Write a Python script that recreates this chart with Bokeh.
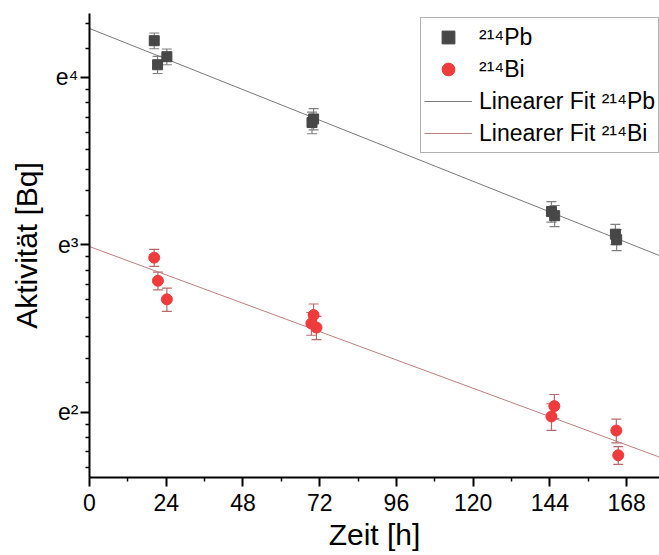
import math
from bokeh.plotting import figure
from bokeh.models import (Range1d, FixedTicker, CustomJSTickFormatter, Whisker,
                          ColumnDataSource, Legend, LegendItem, TeeHead)
from bokeh.embed import file_html
from bokeh.resources import INLINE

# ---- data ----
time_pb = [20.25, 21.3, 24.2, 69.6, 70.1, 144.5, 145.5, 164.5, 164.9]
act_pb = [68.0, 58.9, 61.8, 41.7, 42.6, 24.5, 23.9, 21.4, 20.7]
err_pb = [3.2, 3.0, 2.9, 2.7, 2.7, 1.5, 1.5, 1.3, 1.3]

time_bi = [20.25, 21.4, 24.2, 70.1, 69.4, 71.0, 145.4, 144.5, 164.8, 165.4]
act_bi = [18.6, 16.2, 14.5, 13.2, 12.55, 12.25, 7.66, 7.2, 6.62, 5.71]
err_bi = [0.95, 0.85, 1.0, 0.9, 0.85, 0.85, 0.55, 0.57, 0.47, 0.3]

# linear fits of ln(A) = a + b*t
fit_pb = (4.2925, -0.007611)
fit_bi = (2.9893, -0.007056)
fit_t = [0.0, 180.0]

x_ticks = [0, 24, 48, 72, 96, 120, 144, 168]
y_exponents = [2, 3, 4]
x_title = "Zeit [h]"
y_title = "Aktivität [Bq]"

FONT = "Liberation Sans"

p = figure(width=659, height=555, x_range=Range1d(0, 178.3), y_range=Range1d(5.0, 80.0),
           y_axis_type="log", output_backend="svg", toolbar_location=None,
           min_border_left=89, min_border_right=0, min_border_top=13, min_border_bottom=78)
p.outline_line_color = None
p.grid.visible = False
p.background_fill_color = "white"

src_pb = ColumnDataSource(dict(t=time_pb, a=act_pb,
                               hi=[a + e for a, e in zip(act_pb, err_pb)],
                               lo=[a - e for a, e in zip(act_pb, err_pb)]))
src_bi = ColumnDataSource(dict(t=time_bi, a=act_bi,
                               hi=[a + e for a, e in zip(act_bi, err_bi)],
                               lo=[a - e for a, e in zip(act_bi, err_bi)]))

# fit lines
l_pb = p.line(fit_t, [math.exp(fit_pb[0] + fit_pb[1] * t) for t in fit_t],
              line_color="#7a7a7a", line_width=1)
l_bi = p.line(fit_t, [math.exp(fit_bi[0] + fit_bi[1] * t) for t in fit_t],
              line_color="#c07f7f", line_width=1)

# error bars
for src, col in ((src_pb, "#808080"), (src_bi, "#b86a6a")):
    w = Whisker(base="t", upper="hi", lower="lo", source=src, line_color=col, line_width=1.2,
                upper_head=TeeHead(size=10, line_color=col, line_width=1.2),
                lower_head=TeeHead(size=10, line_color=col, line_width=1.2))
    p.add_layout(w)

s_pb = p.scatter("t", "a", source=src_pb, marker="square", size=10,
                 fill_color="#474747", line_color="#474747")
s_bi = p.scatter("t", "a", source=src_bi, marker="circle", size=11,
                 fill_color="#ef3b3b", line_color="#ef3b3b")

# axes
xa = p.xaxis[0]
xa.ticker = FixedTicker(ticks=x_ticks, minor_ticks=[t + 12 for t in x_ticks])
ya = p.yaxis[0]
minor = []
for n in range(1, 5):
    lo, hi = math.exp(n), math.exp(n + 1)
    for k in range(1, 9):
        minor.append(lo + k * (hi - lo) / 9)
ya.ticker = FixedTicker(ticks=[math.exp(n) for n in y_exponents], minor_ticks=minor)
ya.formatter = CustomJSTickFormatter(
    code="const s = {2: '\u00b2', 3: '\u00b3', 4: '\u2074'}; return 'e' + s[Math.round(Math.log(tick))];")

for ax in (xa, ya):
    ax.axis_line_width = 2
    ax.axis_line_color = "black"
    ax.major_tick_line_width = 2
    ax.minor_tick_line_width = 1.5
    ax.major_tick_in = 0
    ax.minor_tick_in = 0
    ax.major_tick_out = 9
    ax.minor_tick_out = 4
    ax.major_label_text_font = FONT
    ax.major_label_text_font_size = "23px"
    ax.major_label_text_color = "black"
    ax.axis_label_text_font = FONT
    ax.axis_label_text_font_size = "30px"
    ax.axis_label_text_font_style = "normal"
    ax.axis_label_text_color = "black"

xa.axis_label = x_title
xa.major_label_standoff = 7
xa.axis_label_standoff = 4
ya.axis_label = y_title
ya.major_label_standoff = 2
ya.axis_label_standoff = 10

legend = Legend(items=[
    LegendItem(label="\u00b2\u00b9\u2074Pb", renderers=[s_pb]),
    LegendItem(label="\u00b2\u00b9\u2074Bi", renderers=[s_bi]),
    LegendItem(label="Linearer Fit \u00b2\u00b9\u2074Pb", renderers=[l_pb]),
    LegendItem(label="Linearer Fit \u00b2\u00b9\u2074Bi", renderers=[l_bi]),
], location=(331, 324))
legend.border_line_color = "#666666"
legend.border_line_width = 1
legend.background_fill_color = "white"
legend.background_fill_alpha = 1
legend.padding = 3
legend.spacing = 0
legend.margin = 0
legend.glyph_width = 48
legend.glyph_height = 32
legend.label_height = 32
legend.label_standoff = 7
legend.label_text_font = FONT
legend.label_text_font_size = "23px"
legend.label_text_color = "black"
p.add_layout(legend, "center")

open("out.html", "w").write(file_html(p, INLINE))
